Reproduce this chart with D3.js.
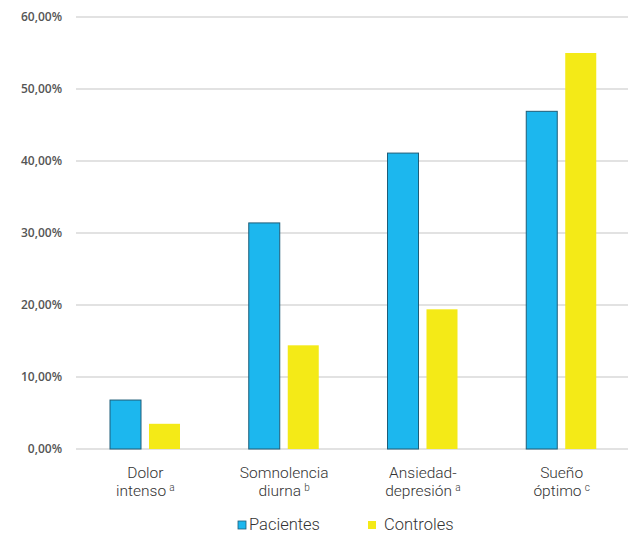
<!DOCTYPE html>
<html>
<head>
<meta charset="utf-8">
<script src="https://cdn.jsdelivr.net/npm/d3@7/dist/d3.min.js"></script>
<style>
  html, body { margin: 0; padding: 0; background: #fff; }
  svg { display: block; }
</style>
</head>
<body>
<svg id="chart" width="628" height="535"></svg>
<script>
// Category labels: main lines plus a superscript mark on the last line
const categories = ["Dolor intenso", "Somnolencia diurna", "Ansiedad-depresión", "Sueño óptimo"];
const categoryLines = [["Dolor", "intenso"], ["Somnolencia", "diurna"], ["Ansiedad-", "depresión"], ["Sueño", "óptimo"]];
const categoryMarks = ["a", "b", "a", "c"];
const seriesNames = ["Pacientes", "Controles"];
const pacientes = [6.8, 31.4, 41.1, 46.9];
const controles = [3.5, 14.4, 19.4, 55.0];
const yTicks = [0, 10, 20, 30, 40, 50, 60];

const colors = { Pacientes: "#1cb7ee", Controles: "#f4ea17" };
const strokes = { Pacientes: "#1f5d78", Controles: "none" };

const svg = d3.select("#chart");
const margin = { top: 17, right: -3, bottom: 86, left: 76 };
const W = 628, H = 535;
const innerW = W - margin.left - margin.right;
const innerH = H - margin.top - margin.bottom;

const g = svg.append("g").attr("transform", `translate(${margin.left},${margin.top})`);

const x0 = d3.scaleBand().domain(categories).range([0, innerW]).paddingInner(0).paddingOuter(0);
const x1 = d3.scaleBand().domain(seriesNames).range([34, 104]).paddingInner(0.205);
const y = d3.scaleLinear().domain([0, 60]).range([innerH, 0]);

// Horizontal gridlines
g.append("g")
  .selectAll("line")
  .data(yTicks)
  .join("line")
  .attr("x1", 0)
  .attr("x2", W - margin.left)
  .attr("y1", d => y(d))
  .attr("y2", d => y(d))
  .attr("stroke", "#d9d9d9")
  .attr("stroke-width", 1.5);

// Y axis labels
const yAxis = d3.axisLeft(y)
  .tickValues(yTicks)
  .tickSize(0)
  .tickPadding(14)
  .tickFormat(d => d3.format(".2f")(d).replace(".", ",") + "%");
const ya = g.append("g").call(yAxis);
ya.select(".domain").remove();
ya.selectAll("text")
  .attr("font-family", "'Open Sans', sans-serif")
  .attr("font-size", 12)
  .attr("font-weight", 600)
  .attr("fill", "#555");

// Bars
const rows = categories.map((c, i) => ({ cat: c, values: [
  { key: "Pacientes", value: pacientes[i] },
  { key: "Controles", value: controles[i] }
]}));

const groups = g.append("g")
  .selectAll("g")
  .data(rows)
  .join("g")
  .attr("transform", d => `translate(${x0(d.cat)},0)`);

groups.selectAll("rect")
  .data(d => d.values)
  .join("rect")
  .attr("x", d => x1(d.key))
  .attr("width", x1.bandwidth())
  .attr("y", d => y(d.value))
  .attr("height", d => y(0) - y(d.value))
  .attr("fill", d => colors[d.key])
  .attr("stroke", d => strokes[d.key])
  .attr("stroke-width", 1);

// Category labels (two lines, superscript on the second)
const labels = g.append("g")
  .selectAll("text")
  .data(categories)
  .join("text")
  .attr("text-anchor", "middle")
  .attr("font-family", "Roboto, sans-serif")
  .attr("font-weight", 300)
  .attr("font-size", 15.5)
  .attr("fill", "#333")
  .attr("transform", d => `translate(${x0(d) + x0.bandwidth() / 2},${innerH + 29})`);

labels.each(function (d, i) {
  const t = d3.select(this);
  t.append("tspan").attr("x", 0).attr("dy", 0).text(categoryLines[i][0]);
  const l2 = t.append("tspan").attr("x", 0).attr("dy", 17.5);
  l2.append("tspan").text(categoryLines[i][1] + "\u2009");
  l2.append("tspan").attr("font-size", 10).attr("dy", -5).text(categoryMarks[i]);
});

// Legend
const legendItems = [
  { key: "Pacientes", x: 238 },
  { key: "Controles", x: 368 }
];
const legend = svg.append("g");
legend.selectAll("rect")
  .data(legendItems)
  .join("rect")
  .attr("x", d => d.x)
  .attr("y", 521)
  .attr("width", 8)
  .attr("height", 8)
  .attr("fill", d => colors[d.key])
  .attr("stroke", d => strokes[d.key])
  .attr("stroke-width", 0.8);
legend.selectAll("text")
  .data(legendItems)
  .join("text")
  .attr("x", d => d.x + (d.key === "Pacientes" ? 11 : 16))
  .attr("y", 530)
  .attr("font-family", "Roboto, sans-serif")
  .attr("font-weight", 300)
  .attr("font-size", 16.5)
  .attr("fill", "#333")
  .text(d => d.key);
</script>
</body>
</html>
